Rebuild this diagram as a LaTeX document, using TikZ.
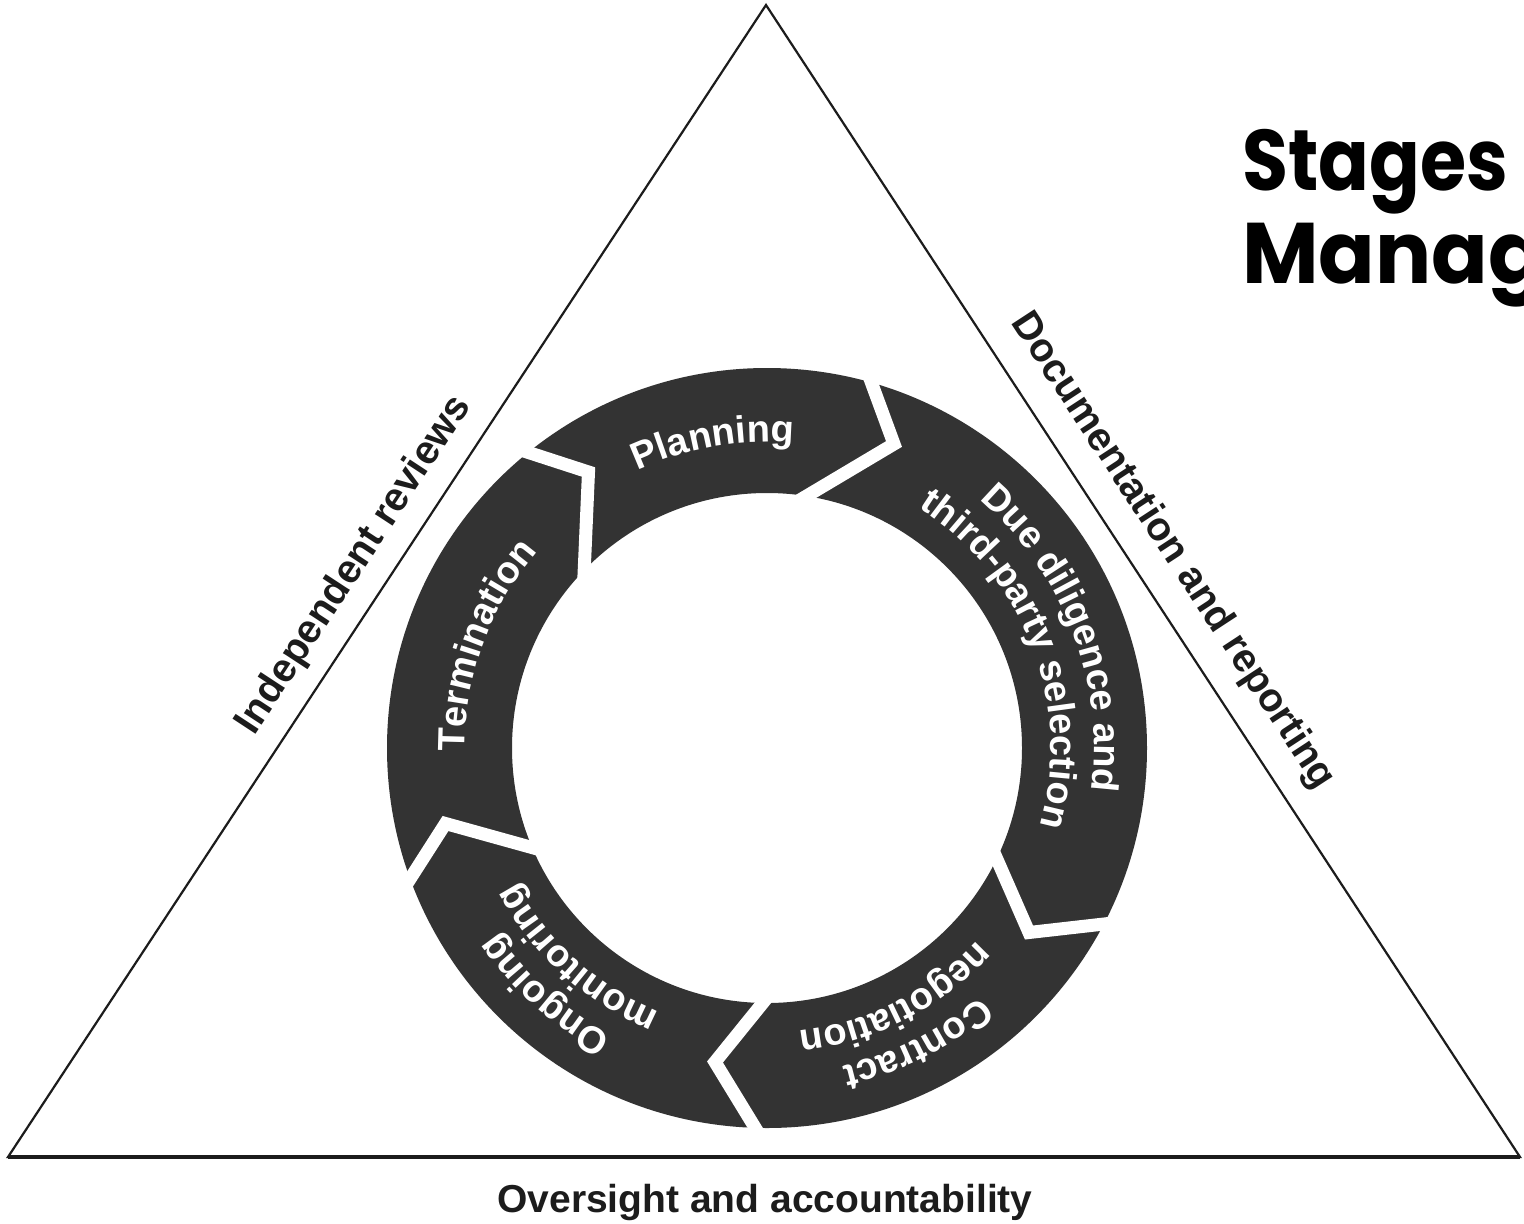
\documentclass[tikz,border=0pt]{standalone}
\usepackage{fontspec}
\setmainfont{Liberation Sans}
\newfontfamily\titlefont{Poppins}
\usetikzlibrary{calc,decorations.text}
\definecolor{ringdark}{RGB}{51,51,51}
\definecolor{inkdark}{RGB}{28,28,28}
\newcommand{\ringfont}{\fontsize{38}{44}\selectfont\bfseries\color{white}}
\newcommand{\sidefont}{\fontsize{40}{46}\selectfont\bfseries}

\begin{document}
\begin{tikzpicture}[x=1pt,y=1pt,
  sidelabel/.style={font=\sidefont, text=inkdark, inner sep=0pt, anchor=base},
  gapband/.style={draw=white, line width=13pt, line join=miter, miter limit=20},
  titletext/.style={font={\titlefont\bfseries\fontsize{86}{90}\selectfont}, anchor=base west, inner sep=0pt}
  ]
\useasboundingbox (0,0) rectangle (1524,-1224);
\fill[white] (0,0) rectangle (1524,-1224);

% triangular frame
\coordinate (apex) at (766,-5);
\coordinate (bl) at (8,-1157);
\coordinate (br) at (1520,-1157);
\draw[line width=2.2pt, line join=miter, inkdark] (bl) -- (apex) -- (br) -- cycle;
\draw[line width=3.4pt, inkdark] (bl) -- (br);

% ring of five stages
\coordinate (c) at (767,-748);
\fill[ringdark, even odd rule] (c) circle (380) (c) circle (255);

% chevron cuts between the stages
\begin{scope}
  \clip (c) circle (382);
  \draw[gapband] (861.8,-356.5) -- (894,-444) -- (779.9,-511.9);
  \draw[gapband] (1134,-920.6) -- (1029,-932.5) -- (987,-836.6);
  \draw[gapband] (771,-1153.7) -- (715,-1062) -- (777.3,-985);
  \draw[gapband] (395.8,-901.2) -- (445.5,-823.5) -- (558.9,-855);
  \draw[gapband] (504.5,-444.7) -- (588.5,-472) -- (582.9,-600.1);
\end{scope}

% stage names, set along the ring clockwise
\path[decorate, decoration={text along path, text align=center,
  text={|\ringfont|Planning}}]
  ($(c)+(145:306)$) arc[start angle=145, end angle=55, radius=306];
\path[decorate, decoration={text along path, text align=center,
  text={|\ringfont|Due diligence and}}]
  ($(c)+(71:327)$) arc[start angle=71, end angle=-29, radius=327];
\path[decorate, decoration={text along path, text align=center,
  text={|\ringfont|third-party selection}}]
  ($(c)+(71:284)$) arc[start angle=71, end angle=-29, radius=284];
\path[decorate, decoration={text along path, text align=center,
  text={|\ringfont|Contract}}]
  ($(c)+(-13:327)$) arc[start angle=-13, end angle=-113, radius=327];
\path[decorate, decoration={text along path, text align=center,
  text={|\ringfont|negotiation}}]
  ($(c)+(-13:285)$) arc[start angle=-13, end angle=-113, radius=285];
\path[decorate, decoration={text along path, text align=center,
  text={|\ringfont|Ongoing}}]
  ($(c)+(-82:327)$) arc[start angle=-82, end angle=-182, radius=327];
\path[decorate, decoration={text along path, text align=center,
  text={|\ringfont|monitoring}}]
  ($(c)+(-82:285)$) arc[start angle=-82, end angle=-182, radius=285];
\path[decorate, decoration={text along path, text align=center,
  text={|\ringfont|Termination}}]
  ($(c)+(210:302)$) arc[start angle=210, end angle=110, radius=302];

% labels of the three sides
\node[sidelabel, rotate=56.7] (leftside) at (363,-571) {Independent reviews};
\node[sidelabel, rotate=-56.8] (rightside) at (1164,-557) {Documentation and reporting};
\node[sidelabel, font=\fontsize{39}{45}\selectfont\bfseries] (baseside) at (765,-1212) {Oversight and accountability};

% heading, running off the right edge
\node[titletext] (title1) at (1242,-190) {\scalebox{0.87}[1]{Stages}};
\node[titletext] (title2) at (1242,-283) {\scalebox{0.97}[1]{Manag}};
\end{tikzpicture}
\end{document}
